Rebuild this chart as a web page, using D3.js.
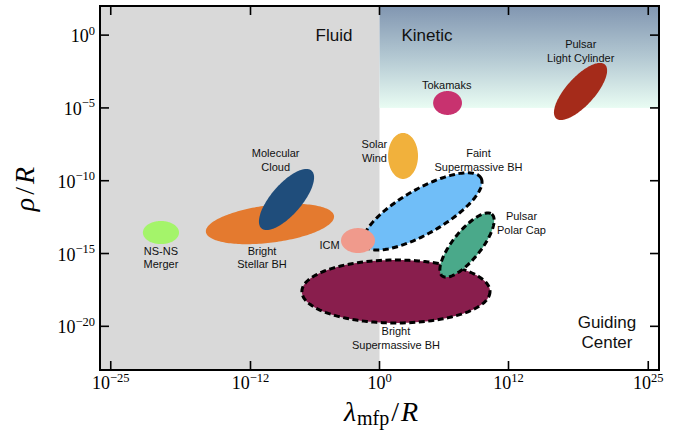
<!DOCTYPE html>
<html><head><meta charset="utf-8">
<script src="https://cdn.jsdelivr.net/npm/d3@7"></script>
<style>body{margin:0;background:#fff}</style>
</head><body><svg id="chart" width="685" height="431"></svg>
<script>
// ---------- data (log10 values) ----------
const xTickExponents = [-25, -12, 0, 12, 25];
const yTickExponents = [0, -5, -10, -15, -20];

const regionNames = ["Bright Stellar BH", "Molecular Cloud", "NS-NS Merger", "Faint Supermassive BH", "ICM",
  "Bright Supermassive BH", "Pulsar Polar Cap", "Solar Wind", "Tokamaks", "Pulsar Light Cylinder"];
const regionCenterLogLambda = [-10.19, -8.65, -20.33, 4.0, -2.0, 1.53, 8.14, 2.19, 6.33, 18.70];
const regionCenterLogRho    = [-12.97, -11.29, -13.56, -12.11, -14.11, -17.61, -14.42, -8.30, -4.66, -3.87];
const regionTipLogLambda    = [-4.23, -6.32, -18.65, 9.44, -0.42, 10.28, 10.45, 2.19, 7.67, 20.97];
const regionTipLogRho       = [-12.42, -9.31, -13.56, -9.81, -14.11, -17.61, -12.30, -6.72, -4.66, -2.02];
const regionAxisRatio       = [0.29, 0.40, 0.64, 0.33, 0.735, 0.335, 0.355, 0.65, 0.83, 0.39];
const regionDashed          = [false, false, false, true, false, true, true, false, false, false];
const regionLabelLines = [["Bright", "Stellar BH"], ["Molecular", "Cloud"], ["NS-NS", "Merger"],
  ["Faint", "Supermassive BH"], ["ICM"], ["Bright", "Supermassive BH"], ["Pulsar", "Polar Cap"],
  ["Solar", "Wind"], ["Tokamaks"], ["Pulsar", "Light Cylinder"]];
const regionLabelLogLambda = [-10.93, -9.66, -20.33, 9.21, -4.65, 1.53, 13.21, -0.47, 6.25, 18.72];
const regionLabelLogRho    = [-15.27, -8.58, -15.27, -8.58, -14.41, -20.80, -12.92, -7.96, -3.43, -1.11];

const regimeNames = [["Fluid"], ["Kinetic"], ["Guiding", "Center"]];
const regimeLabelLogLambda = [-4.23, 4.42, 21.16];
const regimeLabelLogRho = [0.0, 0.0, -20.39];

const fluidKineticBoundaryLogLambda = 0;
const kineticGuidingBoundaryLogRho = -5;

// ---------- styles ----------
const regionColors = ["#e47a2f", "#1f4d7b", "#a4f46a", "#70bef8", "#f09a8c",
  "#891e4d", "#4aa98a", "#f1b13c", "#c8326f", "#a52b1a"];

const svg = d3.select("#chart");
const x = d3.scaleLog().domain([1e-26, 1e26]).range([100, 659]);
const y = d3.scaleLog().domain([1e-23, 1e2]).range([370, 6]);
const [x0, x1] = x.range();
const [y1, y0] = y.range();
const pow = e => Math.pow(10, e);

const defs = svg.append("defs");
const grad = defs.append("linearGradient").attr("id", "kin").attr("x1", 0).attr("y1", 0).attr("x2", 0).attr("y2", 1);
grad.append("stop").attr("offset", "0%").attr("stop-color", "#8196b1");
grad.append("stop").attr("offset", "50%").attr("stop-color", "#b3c8d2");
grad.append("stop").attr("offset", "100%").attr("stop-color", "#e9fcf3");

// backgrounds
svg.append("rect").attr("x", x0).attr("y", y0)
  .attr("width", x(pow(fluidKineticBoundaryLogLambda)) - x0).attr("height", y1 - y0).attr("fill", "#d9d9d9");
svg.append("rect").attr("x", x(pow(fluidKineticBoundaryLogLambda))).attr("y", y0)
  .attr("width", x1 - x(pow(fluidKineticBoundaryLogLambda)))
  .attr("height", y(pow(kineticGuidingBoundaryLogRho)) - y0).attr("fill", "url(#kin)");

// ellipses
const line = d3.line().curve(d3.curveLinearClosed);
regionNames.forEach((name, i) => {
  const cx = x(pow(regionCenterLogLambda[i])), cy = y(pow(regionCenterLogRho[i]));
  const tx = x(pow(regionTipLogLambda[i])), ty = y(pow(regionTipLogRho[i]));
  const dx = tx - cx, dy = ty - cy;
  const nx = -dy * regionAxisRatio[i], ny = dx * regionAxisRatio[i];
  const pts = d3.range(0, 360, 2).map(a => {
    const t = a * Math.PI / 180;
    return [cx + Math.cos(t) * dx + Math.sin(t) * nx, cy + Math.cos(t) * dy + Math.sin(t) * ny];
  });
  const p = svg.append("path").attr("d", line(pts)).attr("fill", regionColors[i]);
  if (regionDashed[i]) p.attr("stroke", "#000").attr("stroke-width", 3).attr("stroke-dasharray", "6,3.5");
});

// frame and ticks
const g = svg.append("g");
const tickLen = 9;
xTickExponents.forEach(e => {
  const px = x(pow(e));
  g.append("line").attr("x1", px).attr("x2", px).attr("y1", y1).attr("y2", y1 - tickLen);
  g.append("line").attr("x1", px).attr("x2", px).attr("y1", y0).attr("y2", y0 + tickLen);
});
yTickExponents.forEach(e => {
  const py = y(pow(e));
  g.append("line").attr("x1", x0).attr("x2", x0 + tickLen).attr("y1", py).attr("y2", py);
  g.append("line").attr("x1", x1).attr("x2", x1 - tickLen).attr("y1", py).attr("y2", py);
});
g.selectAll("line").attr("stroke", "#000").attr("stroke-width", 1.6);
svg.append("rect").attr("x", x0).attr("y", y0).attr("width", x1 - x0).attr("height", y1 - y0)
  .attr("fill", "none").attr("stroke", "#000").attr("stroke-width", 2);

// tick labels
const serif = "'Liberation Serif', 'Times New Roman', serif";
const fmtExp = e => (e < 0 ? "\u2212" + Math.abs(e) : String(e));
function powLabel(sel, e) {
  sel.append("tspan").text("10");
  sel.append("tspan").attr("font-size", 12.5).attr("dy", -7.5).text(fmtExp(e));
}
xTickExponents.forEach(e => {
  const t = svg.append("text").attr("x", x(pow(e))).attr("y", 389).attr("text-anchor", "middle")
    .attr("font-family", serif).attr("font-size", 18);
  powLabel(t, e);
});
yTickExponents.forEach(e => {
  const t = svg.append("text").attr("x", 95).attr("y", y(pow(e)) + 7).attr("text-anchor", "end")
    .attr("font-family", serif).attr("font-size", 18);
  powLabel(t, e);
});

// axis titles
const xt = svg.append("text").attr("x", 381).attr("y", 421).attr("text-anchor", "middle")
  .attr("font-family", serif).attr("font-size", 28);
xt.append("tspan").attr("font-style", "italic").text("λ");
xt.append("tspan").attr("font-size", 20).attr("dy", 4).attr("dx", 1).text("mfp");
xt.append("tspan").attr("dy", -4).attr("dx", 2).text("/");
xt.append("tspan").attr("font-style", "italic").attr("dx", 2).text("R");

const yt = svg.append("text").attr("transform", "translate(34,189) rotate(-90)").attr("text-anchor", "middle")
  .attr("font-family", serif).attr("font-size", 28);
yt.append("tspan").attr("font-style", "italic").text("ρ");
yt.append("tspan").attr("dx", 3).text("/");
yt.append("tspan").attr("font-style", "italic").attr("dx", 3).text("R");

// labels
const sans = "'Liberation Sans', Arial, Helvetica, sans-serif";
function multiLabel(lines, px, py, size, lh) {
  const t = svg.append("text").attr("text-anchor", "middle").attr("font-family", sans)
    .attr("font-size", size).attr("fill", "#111");
  const n = lines.length;
  lines.forEach((s, k) => {
    t.append("tspan").attr("x", px).attr("y", py + (k - (n - 1) / 2) * lh + size * 0.36).text(s);
  });
}
regionNames.forEach((name, i) => {
  multiLabel(regionLabelLines[i], x(pow(regionLabelLogLambda[i])), y(pow(regionLabelLogRho[i])), 11, 13.7);
});
regimeNames.forEach((lines, i) => {
  multiLabel(lines, x(pow(regimeLabelLogLambda[i])), y(pow(regimeLabelLogRho[i])), 17, 20);
});
</script></body></html>
